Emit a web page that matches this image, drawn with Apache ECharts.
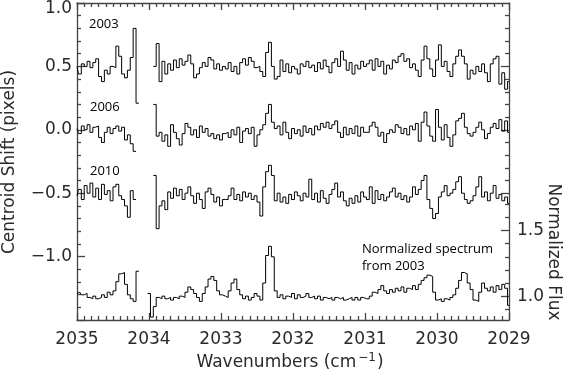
<!DOCTYPE html>
<html><head><meta charset="utf-8">
<script src="https://cdn.jsdelivr.net/npm/echarts@6/dist/echarts.min.js"></script>
<style>html,body{margin:0;padding:0;background:#fff}#c{width:563px;height:372px}</style>
</head><body><div id="c"></div>
<script>
// wavenumber grid (cm^-1): first sample and spacing
const waveStart = 2035;
const waveStep = 0.04;

const shift2003 = [
0.50,0.44,0.52,0.50,0.54,0.49,0.53,0.56,0.42,0.38,
0.47,0.44,0.50,0.49,0.66,0.58,0.44,0.41,0.47,0.57,
0.80,0.21,null,null,null,null,null,0.50,0.68,0.38,
0.54,0.44,0.52,0.47,0.55,0.49,0.56,0.51,0.54,0.59,
0.52,0.41,0.44,0.49,0.53,0.50,0.57,0.55,0.48,0.52,
0.47,0.50,0.48,0.53,0.46,0.50,0.44,0.53,0.56,0.51,
0.57,0.54,0.49,0.50,0.46,0.42,0.61,0.69,0.50,0.40,
0.42,0.55,0.46,0.52,0.45,0.50,0.48,0.44,0.52,0.50,
0.54,0.49,0.51,0.46,0.53,0.48,0.55,0.50,0.45,0.53,
0.56,0.50,0.62,0.55,0.47,0.53,0.44,0.51,0.48,0.54,
0.50,0.52,0.55,0.47,0.56,0.50,0.54,0.44,0.51,0.48,
0.55,0.53,0.58,0.60,0.54,0.56,0.49,0.52,0.47,0.42,
0.55,0.66,0.56,0.48,0.42,0.55,0.67,0.50,0.54,0.46,
0.42,0.52,0.58,0.63,0.58,0.52,0.40,0.47,0.44,0.50,
0.46,0.52,0.45,0.38,0.52,0.56,0.58,0.36,0.45,0.32,0.38];

const shift2006 = [
0.01,-0.03,0.03,0.00,0.04,-0.02,0.02,0.03,-0.06,-0.10,
-0.02,0.02,-0.03,0.01,0.03,-0.01,0.02,-0.08,-0.04,-0.11,
-0.17,null,null,null,null,null,null,0.20,-0.05,-0.02,
-0.09,-0.04,-0.13,0.04,-0.02,-0.07,-0.12,-0.03,0.05,0.02,
-0.04,0.00,-0.06,0.03,-0.02,0.01,-0.05,-0.03,-0.07,-0.04,
-0.08,-0.03,-0.02,-0.06,0.00,-0.04,0.02,-0.10,-0.01,0.01,
-0.03,0.02,-0.13,-0.04,0.00,0.04,0.13,0.20,0.06,0.01,
0.03,-0.04,0.06,-0.02,-0.07,0.01,-0.03,0.00,-0.05,0.03,
-0.02,0.01,-0.04,0.03,0.00,0.05,0.02,0.06,0.01,0.04,
0.07,-0.02,-0.06,0.02,-0.04,0.01,-0.03,0.03,-0.05,0.02,
-0.02,-0.02,0.03,0.06,0.02,-0.05,-0.02,-0.10,-0.03,0.00,
-0.02,0.04,0.02,-0.03,0.01,-0.04,0.03,0.00,0.05,-0.09,
0.06,0.14,0.03,-0.05,-0.09,0.16,0.02,-0.08,0.04,-0.06,
-0.13,-0.04,0.07,0.09,0.13,0.02,-0.03,-0.05,-0.02,0.02,
0.06,0.00,-0.07,-0.03,0.02,0.05,0.01,0.08,-0.01,0.07,-0.02];

const shift2010 = [
-0.52,-0.47,-0.55,-0.44,-0.50,-0.42,-0.53,-0.46,-0.55,-0.43,
-0.51,-0.48,-0.56,-0.45,-0.43,-0.52,-0.55,-0.60,-0.69,-0.48,
-0.55,null,null,null,null,null,null,-0.36,-0.78,-0.60,
-0.56,-0.63,-0.49,-0.54,-0.46,-0.52,-0.47,-0.55,-0.50,-0.45,
-0.52,-0.58,-0.50,-0.55,-0.62,-0.49,-0.46,-0.51,-0.57,-0.53,
-0.60,-0.55,-0.55,-0.52,-0.46,-0.55,-0.51,-0.56,-0.49,-0.53,
-0.50,-0.55,-0.52,-0.57,-0.68,-0.45,-0.33,-0.28,-0.36,-0.56,
-0.50,-0.57,-0.53,-0.58,-0.51,-0.55,-0.49,-0.52,-0.56,-0.50,
-0.53,-0.39,-0.55,-0.50,-0.57,-0.48,-0.54,-0.58,-0.51,-0.47,
-0.42,-0.53,-0.49,-0.56,-0.60,-0.54,-0.58,-0.52,-0.57,-0.49,
-0.53,-0.55,-0.45,-0.58,-0.48,-0.55,-0.51,-0.56,-0.53,-0.49,
-0.46,-0.53,-0.50,-0.55,-0.52,-0.57,-0.53,-0.45,-0.51,-0.47,
-0.40,-0.36,-0.55,-0.62,-0.70,-0.66,-0.53,-0.49,-0.44,-0.52,
-0.50,-0.47,-0.41,-0.37,-0.50,-0.55,-0.58,-0.56,-0.52,-0.45,
-0.37,-0.53,-0.49,-0.56,-0.50,-0.44,-0.54,-0.51,-0.56,-0.53,-0.58];

const flux2003 = [
1.02,1.03,1.01,1.02,0.99,0.98,1.00,0.98,0.99,1.01,
0.99,1.03,1.01,1.04,1.11,1.17,1.18,1.09,1.01,0.98,
0.96,1.19,null,null,null,1.02,0.84,0.92,0.99,0.98,
1.00,0.98,0.99,0.97,0.99,0.98,1.00,0.99,1.03,1.07,
1.05,1.02,0.99,0.96,1.02,1.07,1.13,1.15,1.12,1.04,
1.01,1.00,0.99,1.04,1.10,1.13,1.05,1.01,0.98,1.00,
0.97,0.99,1.02,1.00,0.97,1.10,1.31,1.38,1.30,1.04,
0.99,1.01,0.98,1.00,0.99,1.02,0.98,1.01,0.99,1.00,
1.02,0.99,1.00,0.98,1.00,0.97,0.99,0.98,0.99,0.97,
0.99,0.98,0.99,0.97,0.98,0.99,0.97,0.99,0.97,0.99,
0.98,0.98,1.00,1.03,1.02,1.05,1.08,1.04,1.02,1.05,
1.03,1.06,1.04,1.07,1.03,1.06,1.05,1.08,1.05,1.09,
1.12,1.14,1.16,1.15,1.03,0.97,0.98,0.96,0.98,0.97,
0.99,1.01,1.06,1.12,1.18,1.17,1.10,1.05,0.97,0.96,
1.03,1.10,1.06,1.04,1.07,1.03,1.08,1.05,1.09,1.06,0.93];

// tick values
const fluxMajorTicks = [1.0, 1.5];
const fluxMinorTicks = [0.9, 1.1, 1.2, 1.3, 1.4, 1.6, 1.7];
const mirrorMajorTicks = [-0.5, 0.0, 0.5];
const mirrorMinorTicks = [-0.4,-0.3,-0.2,-0.1,0.1,0.2,0.3,0.4,0.6,0.7,0.8,0.9];
const seriesLabels = ['2003', '2006', '2010'];

// flux axis range matching the centroid axis range [-1.5, 1.0]
const fluxMin = 0.818, fluxMax = 3.235;

function toPairs(vals) {
  return vals.map((v, i) => [+(waveStart - i * waveStep).toFixed(2), v === null ? '-' : v]);
}
function fmt(v) {
  const s = Math.abs(v).toFixed(1);
  return (v < -1e-9 ? '\u2212' : '') + s;
}
const axisColor = '#444';
const lineStyle = { color: axisColor, width: 1.3 };
const labelFont = { fontFamily: 'DejaVu Sans', fontSize: 17, color: '#2a2a2a' };

const chart = echarts.init(document.getElementById('c'), null, { renderer: 'canvas' });
const lineSeries = (data, yIdx) => ({
  type: 'line', xAxisIndex: 0, yAxisIndex: yIdx, data: toPairs(data),
  step: 'middle', symbol: 'none', showSymbol: false, connectNulls: false, silent: true,
  lineStyle: { color: '#000', width: 1 }
});

chart.setOption({
  animation: false,
  backgroundColor: '#fff',
  grid: { left: 77, right: 54, top: 1, bottom: 52, containLabel: false },
  xAxis: [
    { type: 'value', position: 'bottom', min: 2029, max: 2035, interval: 1, inverse: true,
      axisLine: { show: true, onZero: false, lineStyle }, splitLine: { show: false },
      axisTick: { inside: true, length: 7, lineStyle },
      minorTick: { show: true, splitNumber: 10, length: 4, lineStyle },
      axisLabel: Object.assign({ margin: 11, formatter: v => String(v) }, labelFont) },
    { type: 'value', position: 'top', min: 2029, max: 2035, interval: 1, inverse: true,
      axisLine: { show: true, onZero: false, lineStyle }, splitLine: { show: false },
      axisTick: { inside: true, length: 7, lineStyle },
      minorTick: { show: true, splitNumber: 10, length: 4, lineStyle },
      axisLabel: { show: false } }
  ],
  yAxis: [
    { type: 'value', position: 'left', min: -1.5, max: 1.0, interval: 0.5,
      axisLine: { show: true, onZero: false, lineStyle }, splitLine: { show: false },
      axisTick: { inside: true, length: 8, lineStyle },
      minorTick: { show: true, splitNumber: 5, length: 4, lineStyle },
      axisLabel: Object.assign({ margin: 5,
        formatter: v => (Math.abs(v + 1.5) < 1e-9 ? '' : (Math.abs(v - 1) < 1e-9 ? '{t|' + fmt(v) + '}' : fmt(v))),
        rich: { t: { fontFamily: 'DejaVu Sans', fontSize: 17, color: '#2a2a2a', padding: [11, 0, 0, 0] } }
      }, labelFont) },
    { type: 'value', position: 'right', min: fluxMin, max: fluxMax,
      axisLine: { show: true, onZero: false, lineStyle }, splitLine: { show: false },
      axisTick: { inside: true, length: 8, lineStyle, customValues: fluxMajorTicks },
      axisLabel: Object.assign({ margin: 8, customValues: fluxMajorTicks, formatter: v => fmt(v) }, labelFont) },
    { type: 'value', position: 'right', min: fluxMin, max: fluxMax,
      axisLine: { show: false, onZero: false }, splitLine: { show: false },
      axisTick: { inside: true, length: 4, lineStyle, customValues: fluxMinorTicks },
      axisLabel: { show: false } },
    { type: 'value', position: 'right', min: -1.5, max: 1.0,
      axisLine: { show: false, onZero: false }, splitLine: { show: false },
      axisTick: { inside: true, length: 8, lineStyle, customValues: mirrorMajorTicks },
      axisLabel: { show: false } },
    { type: 'value', position: 'right', min: -1.5, max: 1.0,
      axisLine: { show: false, onZero: false }, splitLine: { show: false },
      axisTick: { inside: true, length: 4, lineStyle, customValues: mirrorMinorTicks },
      axisLabel: { show: false } }
  ],
  series: [
    lineSeries(shift2003, 0),
    lineSeries(shift2006, 0),
    lineSeries(shift2010, 0),
    lineSeries(flux2003, 1)
  ],
  graphic: [
    { type: 'text', x: 10, y: 162, rotation: Math.PI / 2, silent: true,
      style: { text: 'Centroid Shift (pixels)', fontFamily: 'DejaVu Sans', fontSize: 17, fill: '#2a2a2a', align: 'center', verticalAlign: 'middle' } },
    { type: 'text', x: 553, y: 252, rotation: -Math.PI / 2, silent: true,
      style: { text: 'Normalized Flux', fontFamily: 'DejaVu Sans', fontSize: 17, fill: '#2a2a2a', align: 'center', verticalAlign: 'middle' } },
    { type: 'text', x: 290, y: 363, silent: true,
      style: { text: '{b|Wavenumbers (cm}{s|\u22121}{b|)}', align: 'center', verticalAlign: 'middle',
        rich: { b: { fontFamily: 'DejaVu Sans', fontSize: 17, fill: '#2a2a2a', lineHeight: 22 },
                s: { fontFamily: 'DejaVu Sans', fontSize: 12, fill: '#2a2a2a', lineHeight: 14, verticalAlign: 'top', padding: [0, 1, 0, 2] } } } },
    { type: 'text', x: 89, y: 24.5, silent: true,
      style: { text: seriesLabels[0], fontFamily: 'Open Sans', fontSize: 13, fill: '#000', align: 'left', verticalAlign: 'middle' } },
    { type: 'text', x: 90, y: 107, silent: true,
      style: { text: seriesLabels[1], fontFamily: 'Open Sans', fontSize: 13, fill: '#000', align: 'left', verticalAlign: 'middle' } },
    { type: 'text', x: 90, y: 171, silent: true,
      style: { text: seriesLabels[2], fontFamily: 'Open Sans', fontSize: 13, fill: '#000', align: 'left', verticalAlign: 'middle' } },
    { type: 'text', x: 362, y: 249, silent: true,
      style: { text: 'Normalized spectrum', fontFamily: 'Open Sans', fontSize: 13, fill: '#000', align: 'left', verticalAlign: 'middle' } },
    { type: 'text', x: 362, y: 266, silent: true,
      style: { text: 'from 2003', fontFamily: 'Open Sans', fontSize: 13, fill: '#000', align: 'left', verticalAlign: 'middle' } }
  ]
});
</script>
</body></html>
